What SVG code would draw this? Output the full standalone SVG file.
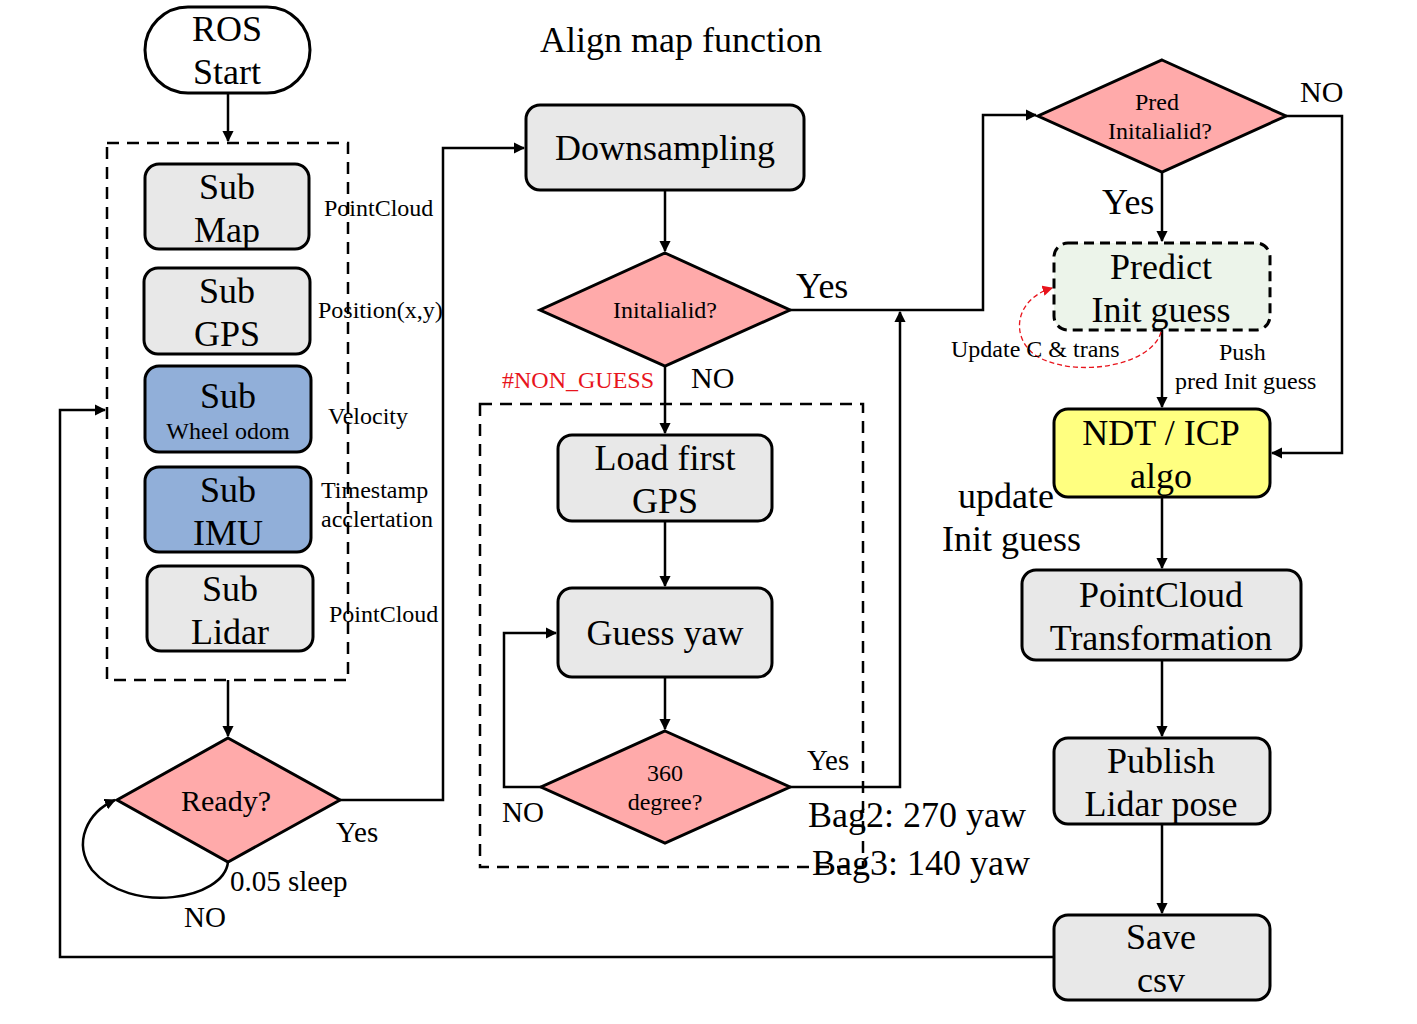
<svg xmlns="http://www.w3.org/2000/svg" width="1417" height="1024" viewBox="0 0 1417 1024">
<defs>
<marker id="ah" viewBox="0 0 10 10" refX="9" refY="5" markerWidth="4.5" markerHeight="4.5" orient="auto" markerUnits="strokeWidth"><path d="M0,0 L10,5 L0,10 z" fill="#000"/></marker>
<marker id="ahr" viewBox="0 0 10 10" refX="9" refY="5" markerWidth="8" markerHeight="8" orient="auto" markerUnits="strokeWidth"><path d="M0,0 L10,5 L0,10 z" fill="#e8141c"/></marker>
</defs>
<style>
text{font-family:"Liberation Serif","Times New Roman",serif;fill:#000;text-anchor:middle}
.l{text-anchor:start}
.box{fill:#e8e8e8;stroke:#000;stroke-width:3}
.blue{fill:#91afd9;stroke:#000;stroke-width:3}
.dia{fill:#ffaaaa;stroke:#000;stroke-width:3}
.c{fill:none;stroke:#000;stroke-width:2.5}
.dash{fill:none;stroke:#000;stroke-width:2.5;stroke-dasharray:12 8}
.t36{font-size:36px}
.t24{font-size:24px}
.t29{font-size:29px}
</style>
<rect width="1417" height="1024" fill="#fff"/>
<g id="group-sub" class="dash"><rect x="107" y="143" width="241" height="537"/></g>
<g id="group-guess" class="dash"><rect x="480" y="404" width="383" height="463"/></g>
<g id="connectors">
<path class="c" d="M228,93 V141" marker-end="url(#ah)"/>
<path class="c" d="M228,680 V736" marker-end="url(#ah)"/>
<path class="c" d="M228,862 C224,900 130,915 92,870 C72,842 88,812 115,800" marker-end="url(#ah)"/>
<path class="c" d="M340,800 H443 V148 H524" marker-end="url(#ah)"/>
<path class="c" d="M665,190 V251" marker-end="url(#ah)"/>
<path class="c" d="M665,366 V433" marker-end="url(#ah)"/>
<path class="c" d="M665,521 V586" marker-end="url(#ah)"/>
<path class="c" d="M665,677 V729" marker-end="url(#ah)"/>
<path class="c" d="M541,787 H504 V633 H556" marker-end="url(#ah)"/>
<path class="c" d="M790,787 H900 V312" marker-end="url(#ah)"/>
<path class="c" d="M790,310 H983 V115 H1036" marker-end="url(#ah)"/>
<path class="c" d="M1286,116 H1342 V453 H1272" marker-end="url(#ah)"/>
<path class="c" d="M1162,172 V241" marker-end="url(#ah)"/>
<path class="c" d="M1162,330 V407" marker-end="url(#ah)"/>
<path class="c" d="M1162,497 V568" marker-end="url(#ah)"/>
<path class="c" d="M1162,660 V736" marker-end="url(#ah)"/>
<path class="c" d="M1162,824 V913" marker-end="url(#ah)"/>
<path class="c" d="M1054,957 H60 V410 H105" marker-end="url(#ah)"/>
<path d="M1161,332 C1152,365 1080,378 1040,358 C1010,342 1012,300 1052,288" fill="none" stroke="#e8141c" stroke-width="1.3" stroke-dasharray="5 3" marker-end="url(#ahr)"/>
</g>
<g id="ros-start"><rect x="145" y="7" width="165" height="86" rx="43" fill="#fff" stroke="#000" stroke-width="3"/><text x="227" y="41" class="t36">ROS</text><text x="227" y="84" class="t36">Start</text></g>
<g id="sub-map"><rect class="box" x="145" y="164" width="164" height="85" rx="14"/><text x="227" y="199" class="t36">Sub</text><text x="227" y="242" class="t36">Map</text></g>
<g id="sub-gps"><rect class="box" x="144" y="268" width="166" height="86" rx="14"/><text x="227" y="303" class="t36">Sub</text><text x="227" y="346" class="t36">GPS</text></g>
<g id="sub-wheel"><rect class="blue" x="145" y="366" width="166" height="86" rx="14"/><text x="228" y="408" class="t36">Sub</text><text x="228" y="439" class="t24">Wheel odom</text></g>
<g id="sub-imu"><rect class="blue" x="145" y="467" width="166" height="85" rx="14"/><text x="228" y="502" class="t36">Sub</text><text x="228" y="545" class="t36">IMU</text></g>
<g id="sub-lidar"><rect class="box" x="147" y="566" width="166" height="85" rx="14"/><text x="230" y="601" class="t36">Sub</text><text x="230" y="644" class="t36">Lidar</text></g>
<g id="labels-sub">
<text x="324" y="216" class="l t24">PointCloud</text>
<text x="318" y="318" class="l t24">Position(x,y)</text>
<text x="328" y="424" class="l t24">Velocity</text>
<text x="321" y="498" class="l t24">Timestamp</text>
<text x="321" y="527" class="l t24">acclertation</text>
<text x="329" y="622" class="l t24">PointCloud</text>
</g>
<g id="ready"><polygon class="dia" points="228,738 340,800 228,862 117,800"/><text x="226" y="811" style="font-size:30px">Ready?</text></g>
<text x="336" y="842" class="l t29">Yes</text>
<text x="230" y="891" class="l t29">0.05 sleep</text>
<text x="184" y="927" class="l t29">NO</text>
<text x="540" y="52" class="l t36">Align map function</text>
<g id="downsampling"><rect class="box" x="526" y="105" width="278" height="85" rx="14"/><text x="665" y="160" class="t36">Downsampling</text></g>
<g id="initialized"><polygon class="dia" points="665,253 790,310 665,366 540,310"/><text x="665" y="318" class="t24">Initalialid?</text></g>
<text x="796" y="298" class="l t36">Yes</text>
<text x="502" y="388" class="l t24" style="fill:#e8141c">#NON_GUESS</text>
<text x="691" y="388" class="l" style="font-size:30px">NO</text>
<g id="load-gps"><rect class="box" x="558" y="435" width="214" height="86" rx="14"/><text x="665" y="470" class="t36">Load first</text><text x="665" y="513" class="t36">GPS</text></g>
<g id="guess-yaw"><rect class="box" x="558" y="588" width="214" height="89" rx="14"/><text x="665" y="645" class="t36">Guess yaw</text></g>
<g id="deg360"><polygon class="dia" points="665,731 790,787 665,843 541,787"/><text x="665" y="781" class="t24">360</text><text x="665" y="810" class="t24">degree?</text></g>
<text x="502" y="822" class="l t29">NO</text>
<text x="807" y="770" class="l t29">Yes</text>
<text x="808" y="827" class="l t36">Bag2: 270 yaw</text>
<text x="812" y="875" class="l t36">Bag3: 140 yaw</text>
<g id="pred-init"><polygon class="dia" points="1162,60 1286,116 1162,172 1038,116"/><text x="1157" y="110" class="t24">Pred</text><text x="1160" y="139" class="t24">Initalialid?</text></g>
<text x="1300" y="102" class="l" style="font-size:30px">NO</text>
<text x="1102" y="214" class="l t36">Yes</text>
<g id="predict"><rect x="1054" y="243" width="216" height="87" rx="14" fill="#ecf4ea" stroke="#000" stroke-width="3" stroke-dasharray="10 6"/><text x="1161" y="279" class="t36">Predict</text><text x="1161" y="322" class="t36">Init guess</text></g>
<text x="951" y="357" class="l t24">Update C &amp; trans</text>
<text x="1219" y="360" class="l t24">Push</text>
<text x="1175" y="389" class="l t24">pred Init guess</text>
<g id="ndt"><rect x="1054" y="409" width="216" height="88" rx="14" fill="#ffff80" stroke="#000" stroke-width="3"/><text x="1161" y="445" class="t36">NDT / ICP</text><text x="1161" y="488" class="t36">algo</text></g>
<text x="958" y="508" class="l t36">update</text>
<text x="942" y="551" class="l t36">Init guess</text>
<g id="pc-trans"><rect class="box" x="1022" y="570" width="279" height="90" rx="14"/><text x="1161" y="607" class="t36">PointCloud</text><text x="1161" y="650" class="t36">Transformation</text></g>
<g id="publish"><rect class="box" x="1054" y="738" width="216" height="86" rx="14"/><text x="1161" y="773" class="t36">Publish</text><text x="1161" y="816" class="t36">Lidar pose</text></g>
<g id="save"><rect class="box" x="1054" y="915" width="216" height="85" rx="14"/><text x="1161" y="949" class="t36">Save</text><text x="1161" y="992" class="t36">csv</text></g>
</svg>
